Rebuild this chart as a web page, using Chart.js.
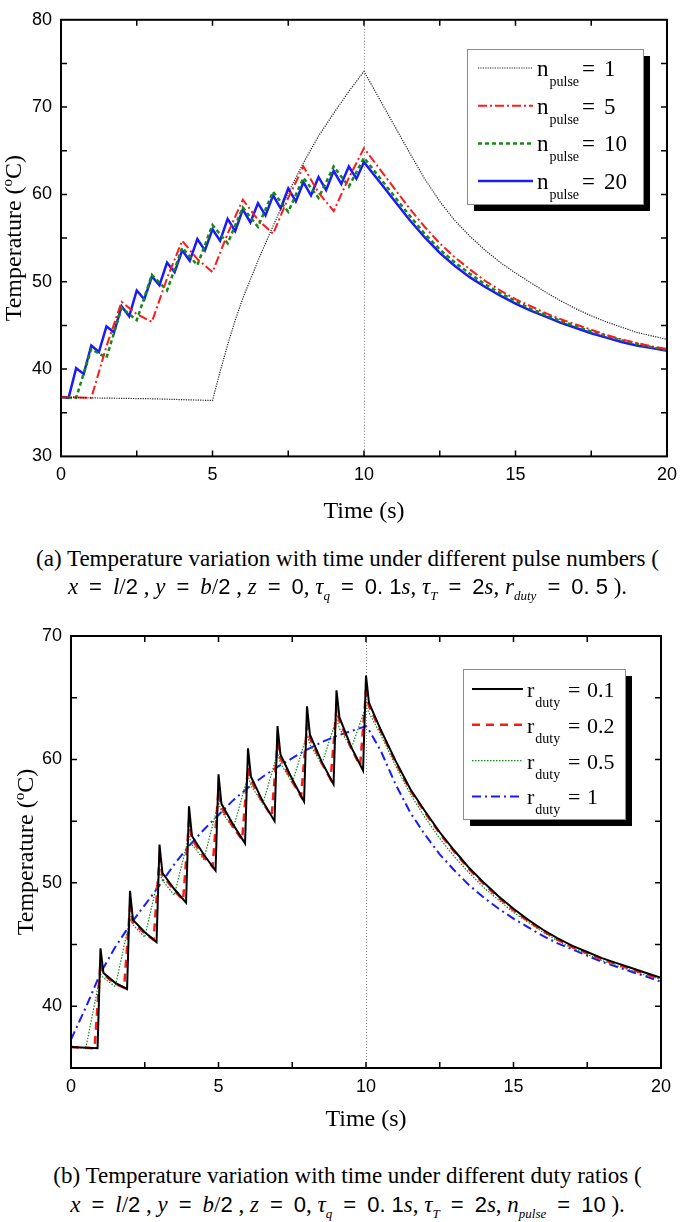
<!DOCTYPE html>
<html>
<head>
<meta charset="utf-8">
<script src="https://cdn.jsdelivr.net/npm/chart.js@4.4.0/dist/chart.umd.min.js"></script>
<style>
  body { margin: 0; background: #fff; width: 685px; height: 1222px; position: relative; overflow: hidden; }
  canvas { position: absolute; left: 0; }
  #chartA { top: 0; }
  #chartB { top: 600px; }
  .cap { position: absolute; left: 0; width: 685px; padding-left: 10px; box-sizing: border-box; text-align: center;
         font-family: "Liberation Serif", "Times New Roman", serif; font-size: 23px; line-height: 26px; color: #000; white-space: pre; }
  .m { font-family: "Liberation Sans", Arial, sans-serif; font-size: 22px; }
  .i { font-style: italic; }
  .eq { font-family: "Liberation Sans", Arial, sans-serif; font-size: 22px; margin: 0 11px; }
  sub { font-size: 13px; font-style: italic; vertical-align: -6px; line-height: 0; }
</style>
</head>
<body>
<canvas id="chartA" width="685" height="535"></canvas>
<canvas id="chartB" width="685" height="545"></canvas>
<div class="cap" style="top:546px">(a) Temperature variation with time under different pulse numbers (</div>
<div class="cap" style="top:574px"><span class="i">x</span><span class="eq">=</span><span class="i">l</span>/<span class="m">2</span> , <span class="i">y</span><span class="eq">=</span><span class="i">b</span>/<span class="m">2</span> , <span class="i">z</span><span class="eq">=</span><span class="m">0</span>, <span class="i">τ</span><sub>q</sub><span class="eq">=</span><span class="m">0. 1</span><span class="i">s</span>, <span class="i">τ</span><sub>T</sub><span class="eq">=</span><span class="m">2</span><span class="i">s</span>, <span class="i">r</span><sub>duty</sub><span class="eq">=</span><span class="m">0. 5</span> ).</div>
<div class="cap" style="top:1163px">(b) Temperature variation with time under different duty ratios (</div>
<div class="cap" style="top:1192px"><span class="i">x</span><span class="eq">=</span><span class="i">l</span>/<span class="m">2</span> , <span class="i">y</span><span class="eq">=</span><span class="i">b</span>/<span class="m">2</span> , <span class="i">z</span><span class="eq">=</span><span class="m">0</span>, <span class="i">τ</span><sub>q</sub><span class="eq">=</span><span class="m">0. 1</span><span class="i">s</span>, <span class="i">τ</span><sub>T</sub><span class="eq">=</span><span class="m">2</span><span class="i">s</span>, <span class="i">n</span><sub>pulse</sub><span class="eq">=</span><span class="m">10</span> ).</div>
<script>
// ---- (a) different pulse numbers, r_duty = 0.5 ----
const pulseCounts = [1, 5, 10, 20];

// cooling phase after t = 10 s (shared time grid)
const tCoolA = [10.5, 11, 11.5, 12, 12.5, 13, 13.5, 14, 14.5, 15, 15.5, 16, 16.5, 17, 17.5, 18, 18.5, 19, 19.5, 20];

const tHeatP1 = [0, 1, 2, 3, 4, 5, 5.25, 5.5, 5.75, 6, 6.5, 7, 7.5, 8, 8.5, 9, 9.5, 10];
const heatP1 = [36.8, 36.7, 36.65, 36.6, 36.5, 36.4, 39.7, 42.8, 45.6, 48.1, 52.4, 56.4, 60.2, 63.6, 66.7, 69.3, 71.8, 74.1];
const coolP1 = [71.0, 67.9, 64.8, 61.8, 59.2, 57.0, 55.2, 53.6, 52.2, 51.0, 49.9, 48.8, 47.8, 46.9, 46.1, 45.4, 44.8, 44.2, 43.8, 43.4];

const tHeatP5 = [0, 1, 1.5, 2, 2.5, 3, 3.5, 4, 4.5, 5, 5.5, 6, 6.5, 7, 7.5, 8, 8.5, 9, 9.5, 10];
const heatP5 = [36.8, 36.7, 42.6, 47.7, 46.3, 45.4, 50.4, 54.7, 52.6, 51.1, 55.5, 59.4, 57.1, 55.5, 59.6, 63.2, 60.2, 58.1, 61.9, 65.3];
const coolP5 = [63.0, 60.7, 58.4, 56.3, 54.4, 52.8, 51.4, 50.1, 49.0, 48.0, 47.2, 46.4, 45.7, 45.1, 44.5, 43.9, 43.4, 43.0, 42.6, 42.3];

const tHeatP10 = [0, 0.5, 1, 1.5, 2, 2.5, 3, 3.5, 4, 4.5, 5, 5.5, 6, 6.5, 7, 7.5, 8, 8.5, 9, 9.5, 10];
const heatP10 = [36.8, 36.7, 42.3, 41.3, 47.0, 45.6, 50.8, 49.0, 53.9, 51.9, 56.5, 54.4, 58.5, 56.3, 60.3, 58.0, 61.9, 59.6, 63.2, 60.9, 64.2];
const coolP10 = [62.0, 59.8, 57.6, 55.5, 53.7, 52.2, 50.9, 49.7, 48.7, 47.8, 46.9, 46.2, 45.5, 44.9, 44.3, 43.8, 43.3, 42.9, 42.5, 42.2];

const tHeatP20 = [0, 0.25, 0.5, 0.75, 1, 1.25, 1.5, 1.75, 2, 2.25, 2.5, 2.75, 3, 3.25, 3.5, 3.75, 4, 4.25, 4.5, 4.75,
  5, 5.25, 5.5, 5.75, 6, 6.25, 6.5, 6.75, 7, 7.25, 7.5, 7.75, 8, 8.25, 8.5, 8.75, 9, 9.25, 9.5, 9.75, 10];
const heatP20 = [36.8, 36.7, 40.1, 39.45, 42.7, 41.95, 44.9, 44.2, 47.2, 46.05, 49.0, 48.0, 50.6, 49.6, 52.2, 51.1, 53.6, 52.4, 54.9, 53.6,
  56.0, 54.7, 57.2, 55.8, 58.3, 56.8, 59.0, 57.6, 59.9, 58.4, 60.7, 59.2, 61.4, 59.9, 62.0, 60.5, 62.7, 61.2, 63.2, 61.8, 63.7];
const coolP20 = [61.5, 59.3, 57.1, 55.1, 53.3, 51.8, 50.5, 49.4, 48.4, 47.5, 46.7, 46.0, 45.3, 44.7, 44.1, 43.6, 43.1, 42.7, 42.4, 42.1];

// ---- (b) different duty ratios, n_pulse = 10 ----
const dutyRatios = [0.1, 0.2, 0.5, 1];

const tCoolB = [10.1, 10.5, 11, 11.5, 12, 12.5, 13, 13.5, 14, 14.5, 15, 15.5, 16, 16.5, 17, 17.5, 18, 18.5, 19, 19.5, 20];

const tHeatD01 = [0, 0.9, 1, 1.1, 1.5, 1.9, 2, 2.1, 2.5, 2.9, 3, 3.1, 3.5, 3.9, 4, 4.1, 4.5, 4.9, 5, 5.1, 5.5, 5.9,
  6, 6.1, 6.5, 6.9, 7, 7.1, 7.5, 7.9, 8, 8.1, 8.5, 8.9, 9, 9.1, 9.5, 9.9, 10];
const heatD01 = [36.7, 36.6, 44.7, 42.7, 41.9, 41.4, 49.35, 47.0, 46.0, 45.2, 53.1, 50.8, 49.5, 48.4, 56.2, 53.8, 52.3, 51.0, 58.8, 56.4, 54.7, 53.2,
  60.9, 58.6, 56.6, 55.0, 62.7, 60.4, 58.4, 56.6, 64.3, 62.0, 59.8, 58.0, 65.6, 63.4, 61.0, 59.1, 66.8];
const coolD01 = [64.6, 62.4, 59.9, 57.6, 55.8, 54.1, 52.6, 51.2, 50.0, 48.9, 47.9, 47.0, 46.2, 45.5, 44.9, 44.4, 43.9, 43.5, 43.1, 42.7, 42.3];

const tHeatD02 = [0, 0.8, 1, 1.1, 1.5, 1.8, 2, 2.1, 2.5, 2.8, 3, 3.1, 3.5, 3.8, 4, 4.1, 4.5, 4.8, 5, 5.1, 5.5, 5.8,
  6, 6.1, 6.5, 6.8, 7, 7.1, 7.5, 7.8, 8, 8.1, 8.5, 8.8, 9, 9.1, 9.5, 9.8, 10];
const heatD02 = [36.7, 36.6, 43.6, 42.6, 41.8, 41.5, 48.05, 46.8, 45.9, 45.4, 52.0, 50.6, 49.4, 48.6, 55.0, 53.5, 52.1, 51.3, 57.5, 56.1, 54.5, 53.5,
  59.4, 58.3, 56.5, 55.4, 61.3, 60.1, 58.2, 57.0, 62.7, 61.7, 59.7, 58.4, 64.1, 63.1, 60.9, 59.5, 65.5];
const coolD02 = [64.3, 62.3, 59.8, 57.5, 55.7, 54.0, 52.5, 51.1, 49.9, 48.8, 47.8, 46.9, 46.1, 45.4, 44.8, 44.3, 43.8, 43.4, 43.0, 42.6, 42.2];

const tHeatD05 = [0, 0.5, 1, 1.1, 1.5, 2, 2.1, 2.5, 3, 3.1, 3.5, 4, 4.1, 4.5, 5, 5.1, 5.5, 6, 6.1, 6.5, 7, 7.1, 7.5,
  8, 8.1, 8.5, 9, 9.1, 9.5, 10];
const heatD05 = [36.7, 36.6, 42.6, 42.3, 41.6, 47.1, 46.6, 45.6, 50.8, 50.2, 49.0, 53.8, 53.1, 51.9, 56.5, 55.8, 54.4, 58.7, 57.9, 56.4, 60.5, 59.7, 58.1,
  62.0, 61.2, 59.6, 63.3, 62.5, 60.9, 64.3];
const coolD05 = [63.8, 62.0, 59.5, 57.2, 55.3, 53.6, 52.1, 50.8, 49.6, 48.6, 47.6, 46.8, 46.0, 45.3, 44.7, 44.2, 43.7, 43.3, 42.9, 42.5, 42.2];

const tHeatD1 = [0, 0.5, 1, 1.5, 2, 2.5, 3, 3.5, 4, 4.5, 5, 5.5, 6, 6.5, 7, 7.5, 8, 8.5, 9, 9.5, 10];
const heatD1 = [37.3, 39.9, 42.7, 44.8, 46.6, 48.2, 49.8, 51.5, 53.0, 54.3, 55.5, 56.7, 57.7, 58.6, 59.4, 60.1, 60.8, 61.4, 61.9, 62.3, 62.7];
const coolD1 = [62.4, 60.7, 58.0, 55.7, 53.9, 52.3, 51.0, 49.8, 48.8, 47.9, 47.1, 46.4, 45.7, 45.1, 44.6, 44.1, 43.6, 43.2, 42.8, 42.4, 42.0];

// join heating and cooling phases into {x, y} points
function pts(tHeat, heat, tCool, cool) {
  const t = tHeat.concat(tCool);
  const v = heat.concat(cool);
  return t.map((x, i) => ({ x: x, y: v[i] }));
}

const SERIF = '"Liberation Serif", "Times New Roman", serif';
const SANS = '"Liberation Sans", Arial, sans-serif';

// frame, inward ticks, t = 10 s marker, y title and boxed legend
const plotFrame = {
  id: "plotFrame",
  beforeDatasetsDraw(chart, args, o) {
    const { ctx, chartArea: a } = chart;
    const px = Math.round(chart.scales.x.getPixelForValue(o.marker)) + 0.5;
    ctx.save();
    ctx.strokeStyle = "#808080";
    ctx.lineWidth = 1;
    ctx.setLineDash([1, 2]);
    ctx.beginPath();
    ctx.moveTo(px, a.top);
    ctx.lineTo(px, a.bottom);
    ctx.stroke();
    ctx.restore();
  },
  afterDraw(chart, args, o) {
    const { ctx, chartArea: a, scales: { x, y } } = chart;
    ctx.save();
    ctx.strokeStyle = "#000";
    ctx.lineWidth = 1.5;
    ctx.beginPath();
    for (let v = x.min + o.xMinor; v < x.max; v += o.xMinor) {
      const p = x.getPixelForValue(v);
      ctx.moveTo(p, a.bottom); ctx.lineTo(p, a.bottom - 6);
      ctx.moveTo(p, a.top); ctx.lineTo(p, a.top + 6);
    }
    for (let v = y.min + o.yMinor; v < y.max; v += o.yMinor) {
      const p = y.getPixelForValue(v);
      ctx.moveTo(a.left, p); ctx.lineTo(a.left + 6, p);
      ctx.moveTo(a.right, p); ctx.lineTo(a.right - 6, p);
    }
    ctx.stroke();
    ctx.lineWidth = 2;
    ctx.strokeRect(a.left, a.top, a.right - a.left, a.bottom - a.top);

    // y axis title with raised "o"
    ctx.save();
    ctx.translate(o.titleX, (a.top + a.bottom) / 2);
    ctx.rotate(-Math.PI / 2);
    ctx.fillStyle = "#000";
    ctx.font = "24px " + SERIF;
    const p1 = "Temperature (", p2 = "C)";
    const w1 = ctx.measureText(p1).width, w2 = ctx.measureText(p2).width;
    ctx.font = "15px " + SERIF;
    const ws = ctx.measureText("o").width;
    const sx = -(w1 + ws + w2) / 2;
    ctx.font = "24px " + SERIF;
    ctx.fillText(p1, sx, 8);
    ctx.font = "15px " + SERIF;
    ctx.fillText("o", sx + w1, -1);
    ctx.font = "24px " + SERIF;
    ctx.fillText(p2, sx + w1 + ws, 8);
    ctx.restore();

    // legend
    const L = o.legend;
    ctx.fillStyle = "#000";
    ctx.fillRect(L.left + 7, L.top + 7, L.width, L.height);
    ctx.fillStyle = "#fff";
    ctx.fillRect(L.left, L.top, L.width, L.height);
    ctx.strokeStyle = "#8c8c8c";
    ctx.lineWidth = 1;
    ctx.strokeRect(L.left + 0.5, L.top + 0.5, L.width, L.height);
    chart.data.datasets.forEach((ds, i) => {
      const ry = L.firstRow + i * L.rowGap;
      ctx.strokeStyle = ds.borderColor;
      ctx.lineWidth = ds.borderWidth;
      ctx.setLineDash(ds.borderDash || []);
      ctx.beginPath();
      ctx.moveTo(L.lineX0, ry);
      ctx.lineTo(L.lineX1, ry);
      ctx.stroke();
      ctx.setLineDash([]);
      ctx.fillStyle = "#000";
      ctx.font = L.size + "px " + SERIF;
      ctx.fillText(L.sym, L.textX, ry + 8);
      const w = ctx.measureText(L.sym).width;
      ctx.font = "14px " + SERIF;
      ctx.fillText(L.sub, L.textX + w + 1, ry + 18);
      ctx.font = L.size + "px " + SERIF;
      ctx.fillText("=", L.eqX, ry + 8);
      ctx.fillText(String(L.values[i]), L.valX, ry + 8);
    });
    ctx.restore();
  }
};

function makeChart(id, datasets, yMin, yMax, pad, yWidth, xHeight, titlePad, frameOpts) {
  return new Chart(document.getElementById(id), {
    type: "line",
    data: { datasets: datasets },
    plugins: [plotFrame],
    options: {
      responsive: false,
      animation: false,
      devicePixelRatio: 1,
      layout: { padding: pad },
      elements: { point: { radius: 0 }, line: { tension: 0 } },
      plugins: { legend: { display: false }, tooltip: { enabled: false }, plotFrame: frameOpts },
      scales: {
        x: {
          type: "linear", min: 0, max: 20,
          grid: { display: false, drawTicks: false },
          border: { display: false },
          ticks: { stepSize: 5, padding: 8, color: "#000", font: { family: SANS, size: 18 } },
          title: { display: true, text: "Time (s)", color: "#000", font: { family: SERIF, size: 24 },
                   padding: { top: 0, bottom: titlePad } },
          afterFit: (s) => { s.height = xHeight; }
        },
        y: {
          min: yMin, max: yMax,
          grid: { display: false, drawTicks: false },
          border: { display: false },
          ticks: { stepSize: 10, padding: 9, color: "#000", font: { family: SANS, size: 18 } },
          afterBuildTicks: (s) => { s.ticks = s.ticks.filter((t) => t.value % 10 === 0); },
          afterFit: (s) => { s.width = yWidth; }
        }
      }
    }
  });
}

makeChart("chartA", [
  { label: "n_pulse = " + pulseCounts[0], data: pts(tHeatP1, heatP1, tCoolA, coolP1),
    borderColor: "#222", borderWidth: 1.2, borderDash: [1.2, 1.2] },
  { label: "n_pulse = " + pulseCounts[1], data: pts(tHeatP5, heatP5, tCoolA, coolP5),
    borderColor: "#ff1a1a", borderWidth: 2, borderDash: [9, 3, 2, 3] },
  { label: "n_pulse = " + pulseCounts[2], data: pts(tHeatP10, heatP10, tCoolA, coolP10),
    borderColor: "#138a13", borderWidth: 2.5, borderDash: [4, 3] },
  { label: "n_pulse = " + pulseCounts[3], data: pts(tHeatP20, heatP20, tCoolA, coolP20),
    borderColor: "#1a1aff", borderWidth: 2.5 }
], 30, 80, { top: 10, right: 12, left: 0, bottom: 0 }, 61, 78.6, 9, {
  marker: 10, xMinor: 2.5, yMinor: 5, titleX: 13,
  legend: { left: 467, top: 49, width: 176, height: 155, firstRow: 68, rowGap: 37.7, size: 23,
            lineX0: 478, lineX1: 533, textX: 537, eqX: 582, valX: 604, sym: "n", sub: "pulse", values: pulseCounts }
});

makeChart("chartB", [
  { label: "r_duty = " + dutyRatios[0], data: pts(tHeatD01, heatD01, tCoolB, coolD01),
    borderColor: "#000", borderWidth: 2 },
  { label: "r_duty = " + dutyRatios[1], data: pts(tHeatD02, heatD02, tCoolB, coolD02),
    borderColor: "#ff1a1a", borderWidth: 2.5, borderDash: [8, 6] },
  { label: "r_duty = " + dutyRatios[2], data: pts(tHeatD05, heatD05, tCoolB, coolD05),
    borderColor: "#138a13", borderWidth: 1.2, borderDash: [1.5, 1.5] },
  { label: "r_duty = " + dutyRatios[3], data: pts(tHeatD1, heatD1, tCoolB, coolD1),
    borderColor: "#1a1aff", borderWidth: 2, borderDash: [9, 4, 2, 4] }
], 35, 70, { top: 36, right: 24, left: 0, bottom: 0 }, 71, 77, 11, {
  marker: 10, xMinor: 2.5, yMinor: 5, titleX: 25,
  legend: { left: 463, top: 69, width: 162, height: 150, firstRow: 89, rowGap: 35.8, size: 22,
            lineX0: 472, lineX1: 523, textX: 527, eqX: 568, valX: 587, sym: "r", sub: "duty", values: dutyRatios }
});
</script>
</body>
</html>
